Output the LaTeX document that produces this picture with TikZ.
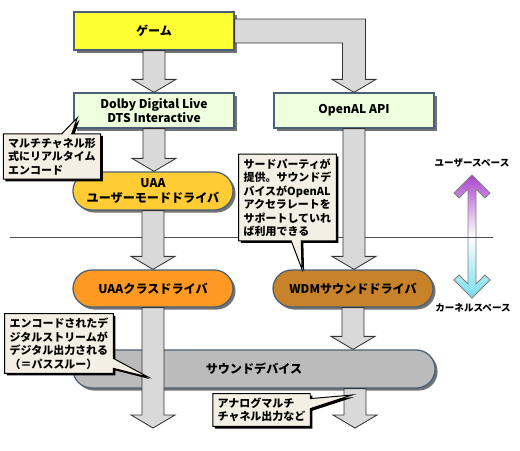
\documentclass[tikz,border=0pt]{standalone}
\usepackage{fontspec}
\setmainfont{Noto Sans CJK JP}
\definecolor{gameyellow}{HTML}{FFFF33}
\definecolor{apigreen}{HTML}{EEFFDD}
\definecolor{uaagold}{HTML}{FFCC33}
\definecolor{uaaorange}{HTML}{FF9922}
\definecolor{wdmbrown}{HTML}{C8822A}
\definecolor{devgray}{HTML}{BBBBBB}
\definecolor{notecream}{HTML}{F3EFE4}
\definecolor{edgeslate}{HTML}{4A6078}
\definecolor{arrgray}{HTML}{D9D9D9}
\definecolor{userpurple}{HTML}{AA44CC}
\definecolor{kernelcyan}{HTML}{77DDEE}
\usepackage{tikz}
\usetikzlibrary{calc, shadows, shapes.callouts}

% fat gray arrow pointing down from #1 to #2
\newcommand{\fatarrow}[2]{%
  \path (#1) coordinate (fa-s) (#2) coordinate (fa-e);
  \draw[fat] ($(fa-s)+(-11,0)$) -- ($(fa-s|-fa-e)+(-11,-13)$) -- ($(fa-s|-fa-e)+(-22,-13)$)
    -- (fa-s|-fa-e) -- ($(fa-s|-fa-e)+(22,-13)$) -- ($(fa-s|-fa-e)+(11,-13)$)
    -- ($(fa-s)+(11,0)$) -- cycle;}

\begin{document}
\begin{tikzpicture}[x=0.025cm, y=-0.025cm,
    comp/.style={draw=edgeslate, line width=0.9pt, minimum width=4cm, minimum height=0.95cm,
                 align=center, font=\bfseries\fontsize{8.6}{10}\selectfont,
                 drop shadow={shadow xshift=1.8pt, shadow yshift=-1.8pt, fill=black!55, opacity=1}},
    pill/.style={comp, rounded corners=0.47cm},
    note/.style={rectangle callout, draw=black, line width=0.7pt, fill=notecream, align=left,
                 inner xsep=3.5pt, inner ysep=3pt, font=\bfseries\fontsize{7.8}{9.6}\selectfont,
                 drop shadow={shadow xshift=1.5pt, shadow yshift=-1.5pt, fill=black, opacity=1}},
    fat/.style={fill=arrgray, draw=black!80, line width=0.6pt},
    space/.style={font=\bfseries\fontsize{6.8}{8}\selectfont, inner sep=1pt}
  ]
    \useasboundingbox (0,0) rectangle (520,450);

    % User / kernel space marker
    \node[space] (userlbl) at (472,163) {ユーザースペース};
    \node[space] (kernellbl) at (473,308) {カーネルスペース};
    \coordinate (spacetop) at (472,175);
    \coordinate (spacebot) at (472,298);
    \draw[black!50, line width=0.6pt, top color=userpurple, bottom color=kernelcyan, middle color=white]
      (spacetop) -- ++(18,18) -- ++(-5,5) -- ($(spacetop)+(4,14)$) -- ($(spacebot)+(4,-14)$)
      -- ++(9,-9) -- ++(5,5) -- (spacebot) -- ++(-18,-18) -- ++(5,-5) -- ($(spacebot)+(-4,-14)$)
      -- ($(spacetop)+(-4,14)$) -- ++(-9,9) -- ++(-5,-5) -- cycle;
    \draw[black!70, line width=0.5pt] (10,237) -- (493,237);

    % Top: game and APIs
    \node[comp, fill=gameyellow] (game) at (154,31) {ゲーム};
    \node[comp, fill=apigreen, minimum height=0.875cm] (dolby) at (154,110.5)
      {Dolby Digital Live\\DTS Interactive};
    \node[comp, fill=apigreen, minimum height=0.875cm] (openal) at (354,110.5) {OpenAL API};

    % Drivers
    \node[pill, fill=uaagold] (uaauser) at (153,191) {UAA\\ユーザーモードドライバ};
    \node[pill, fill=uaaorange, minimum height=0.925cm] (uaaclass) at (153,288.5) {UAAクラスドライバ};
    \node[pill, fill=wdmbrown, minimum height=0.925cm] (wdm) at (353,288.5) {WDMサウンドドライバ};

    % Bottom: device
    \node[pill, fill=devgray, minimum width=9.05cm] (device) at (254,369) {サウンドデバイス};
    \coordinate (passout) at (153,428);
    \coordinate (anaout) at (355,428);

    % Arrows
    \fatarrow{game.south}{dolby.north}
    \fatarrow{dolby.south}{uaauser.north}
    \fatarrow{uaauser.south}{uaaclass.north}
    \fatarrow{openal.south}{wdm.north}
    \fatarrow{wdm.south}{device.north}
    \fatarrow{uaaclass.south}{passout}
    \fatarrow{device.south-|anaout}{anaout}
    \coordinate (bend) at (openal.north |- game.east);
    \draw[fat] ($(game.east)+(0,-12)$) -- ($(bend)+(11.5,-12)$) -- ($(openal.north)+(11.5,-13)$)
      -- ($(openal.north)+(22,-13)$) -- (openal.north) -- ($(openal.north)+(-22,-13)$)
      -- ($(openal.north)+(-11.5,-13)$) -- ($(bend)+(-11.5,12)$) -- ($(game.east)+(0,12)$) -- cycle;

    % Notes
    \node[note, callout absolute pointer={($(dolby.south west)+(4,-11)$)}] (encnote) at (52,156.5)
      {マルチチャネル形\\式にリアルタイム\\エンコード};
    \node[note, callout absolute pointer={($(wdm.north)+(-51,0)$)}] (oalnote) at (287.5,197.5)
      {サードパーティが\\提供。サウンドデ\\バイスがOpenAL\\アクセラレートを\\サポートしていれ\\ば利用できる};
    \node[note, callout absolute pointer={(148,377)}] (passnote) at (59,343.5)
      {エンコードされたデ\\ジタルストリームが\\デジタル出力される\\（＝パススルー）};
    \node[note, callout absolute pointer={(352,395)}] (ananote) at (261.5,410)
      {アナログマルチ\\チャネル出力など};
  \end{tikzpicture}
\end{document}
